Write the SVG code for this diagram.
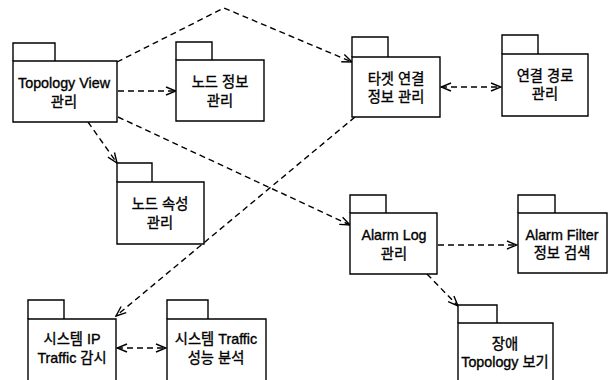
<svg xmlns="http://www.w3.org/2000/svg" width="613" height="380" viewBox="0 0 613 380">
  <style>
    .pkg path { fill: #fff; stroke: #000; stroke-width: 1.4; }
    .pkg text { font-family: "Liberation Sans", "Noto Sans CJK KR", sans-serif; font-size: 14.3px; fill: #000; stroke: #000; stroke-width: 0.35; text-anchor: middle; }
    .dep { fill: none; stroke: #000; stroke-width: 1.4; stroke-dasharray: 6 4; }
  </style>
  <defs>
    <marker id="open" viewBox="0 0 12 10" refX="11" refY="5" markerWidth="12" markerHeight="10" markerUnits="userSpaceOnUse" orient="auto-start-reverse">
      <path d="M1,1 L11,5 L1,9" fill="none" stroke="#000" stroke-width="1.4"/>
    </marker>
  </defs>

  <rect width="613" height="380" fill="#fff"/>

  <!-- dependency connectors -->
  <g id="connectors">
    <polyline class="dep" points="117,62 224,8 352,62" marker-end="url(#open)"/>
    <line class="dep" x1="118" y1="91" x2="176" y2="91" marker-end="url(#open)"/>
    <line class="dep" x1="88" y1="122" x2="117" y2="163" marker-end="url(#open)"/>
    <line class="dep" x1="118" y1="117" x2="350" y2="225" marker-end="url(#open)"/>
    <line class="dep" x1="355" y1="117" x2="116" y2="316" marker-end="url(#open)"/>
    <line class="dep" x1="441" y1="87" x2="501" y2="87" marker-start="url(#open)" marker-end="url(#open)"/>
    <line class="dep" x1="438" y1="245" x2="517" y2="245" marker-end="url(#open)"/>
    <line class="dep" x1="427" y1="274" x2="458" y2="306" marker-end="url(#open)"/>
    <line class="dep" x1="117" y1="348" x2="166" y2="348" marker-start="url(#open)" marker-end="url(#open)"/>
  </g>

  <!-- packages: tab + body -->
  <g id="topology-view" class="pkg">
    <path d="M13,61 V43 H55 V61"/>
    <path d="M13,61 H117 V122 H13 Z"/>
    <text x="64" y="88">Topology View</text>
    <text x="64" y="107">관리</text>
  </g>

  <g id="node-info" class="pkg">
    <path d="M176,60 V42 H212 V60"/>
    <path d="M176,60 H264 V121 H176 Z"/>
    <text x="220" y="87">노드 정보</text>
    <text x="220" y="106">관리</text>
  </g>

  <g id="target-link" class="pkg">
    <path d="M352,57 V37 H388 V57"/>
    <path d="M352,57 H440 V117 H352 Z"/>
    <text x="396" y="84">타겟 연결</text>
    <text x="396" y="102">정보 관리</text>
  </g>

  <g id="link-path" class="pkg">
    <path d="M502,54 V35 H538 V54"/>
    <path d="M502,54 H588 V116 H502 Z"/>
    <text x="545" y="81">연결 경로</text>
    <text x="545" y="99">관리</text>
  </g>

  <g id="node-attr" class="pkg">
    <path d="M117,182 V163 H152 V182"/>
    <path d="M117,182 H204 V244 H117 Z"/>
    <text x="160" y="209">노드 속성</text>
    <text x="160" y="228">관리</text>
  </g>

  <g id="alarm-log" class="pkg">
    <path d="M350,213 V195 H386 V213"/>
    <path d="M350,213 H437 V274 H350 Z"/>
    <text x="394" y="240">Alarm Log</text>
    <text x="394" y="259">관리</text>
  </g>

  <g id="alarm-filter" class="pkg">
    <path d="M518,213 V195 H555 V213"/>
    <path d="M518,213 H607 V273 H518 Z"/>
    <text x="562" y="240">Alarm Filter</text>
    <text x="562" y="258">정보 검색</text>
  </g>

  <g id="fault-topology" class="pkg">
    <path d="M458,323 V305 H497 V323"/>
    <path d="M458,323 H553 V392 H458 Z"/>
    <text x="505" y="349">장애</text>
    <text x="505" y="367">Topology 보기</text>
  </g>

  <g id="ip-traffic" class="pkg">
    <path d="M28,319 V300 H64 V319"/>
    <path d="M28,319 H116 V392 H28 Z"/>
    <text x="72" y="344">시스템 IP</text>
    <text x="72" y="363">Traffic 감시</text>
  </g>

  <g id="traffic-perf" class="pkg">
    <path d="M167,319 V300 H208 V319"/>
    <path d="M167,319 H266 V392 H167 Z"/>
    <text x="216" y="344">시스템 Traffic</text>
    <text x="216" y="363">성능 분석</text>
  </g>
</svg>
